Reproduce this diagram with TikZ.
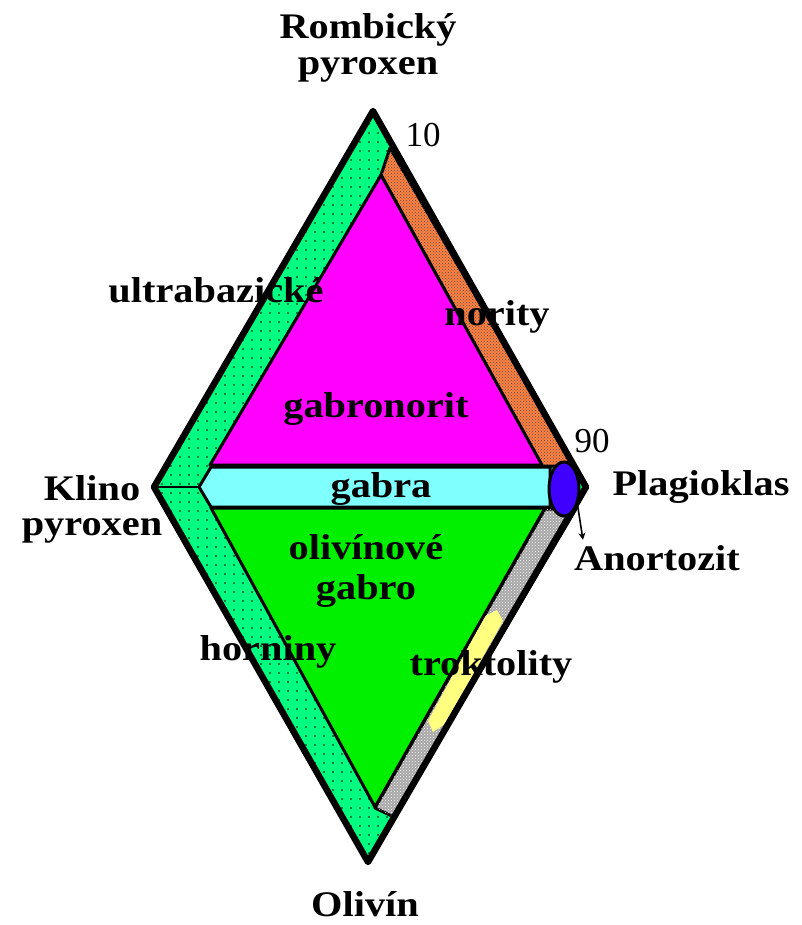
\documentclass[tikz,border=0pt]{standalone}
\usepackage{fontspec}
\setmainfont{Liberation Serif}
\newfontfamily\lblfont[FakeStretch=1.12]{Liberation Serif}
\usetikzlibrary{arrows.meta,shapes.geometric,patterns,patterns.meta}

\definecolor{mintgreen}{RGB}{0,255,128}
\definecolor{olgreen}{RGB}{0,240,0}
\definecolor{gabcyan}{RGB}{128,255,255}
\definecolor{gabmagenta}{RGB}{255,0,255}
\definecolor{noritorange}{RGB}{255,128,64}
\definecolor{plagblue}{RGB}{64,0,255}
\definecolor{troktyellow}{RGB}{255,255,128}

\tikzdeclarepattern{
  name=sparsedots,
  type=uncolored,
  bounding box={(-1pt,-1pt) and (1pt,1pt)},
  tile size={(9pt,9pt)},
  code={\fill (0pt,0pt) circle (0.9pt);}
}

\begin{document}
\begin{tikzpicture}[x=1pt, y=-1pt,
    zone/.style={draw=black, line width=3pt, line join=round},
    lbl/.style={inner sep=0pt, align=center, font=\lblfont\bfseries\fontsize{36}{36}\selectfont},
    num/.style={inner sep=0pt, font=\fontsize{35}{35}\selectfont},
    arr/.style={-{Stealth[length=7pt,width=7pt]}, line width=1.6pt}
]
\useasboundingbox (0,0) rectangle (802,925);

\coordinate (top) at (373,111);
\coordinate (left) at (154,487);
\coordinate (bot) at (368,862);
\coordinate (right) at (586,487);
\coordinate (tip) at (199,487);

\fill[mintgreen] (top) -- (left) -- (bot) -- (right) -- cycle;
\fill[pattern=sparsedots, pattern color=black] (top) -- (left) -- (bot) -- (right) -- cycle;

\filldraw[zone, fill=noritorange, postaction={pattern=crosshatch dots, pattern color=black!70}]
    (390,148) -- (574,466) -- (542,466) -- (381,175) -- cycle;
\filldraw[zone, fill=black!35, postaction={pattern=crosshatch dots, pattern color=white}]
    (545,509) -- (576,509) -- (394,817) -- (375,808) -- cycle;
\fill[troktyellow] (485,616) -- (497,610) -- (503,621) -- (445,724) -- (433,732) -- (428,721) -- cycle;

\filldraw[zone, fill=gabmagenta] (381,175) -- (210,465) -- (542,465) -- cycle;
\filldraw[zone, fill=gabcyan] (211,467) -- (tip) -- (211,507) -- (550,507) -- (550,467) -- cycle;
\filldraw[zone, fill=olgreen] (211,508) -- (545,508) -- (375,807) -- cycle;

\draw[line width=1.2pt] (left) -- (tip);
\draw[line width=6.5pt, line join=round] (top) -- (left) -- (bot) -- (right) -- cycle;

\node[ellipse, draw=black, line width=3pt, fill=plagblue, minimum width=30pt, minimum height=54pt, inner sep=0pt] (plag) at (564,489) {};

\node[lbl, anchor=north] (rombicky) at (368,13) {Rombický\\pyroxen};
\node[num, anchor=base] (n10) at (423,147) {10};
\node[lbl, anchor=base] (ultrabazicke) at (216,302) {ultrabazické};
\node[lbl, anchor=base] (nority) at (497,325) {nority};
\node[lbl, anchor=base] (gabronorit) at (376,417) {gabronorit};
\node[num, anchor=base] (n90) at (592,452) {90};
\node[lbl, anchor=north] (klino) at (92,475) {Klino\\[-1pt]pyroxen};
\node[lbl, anchor=base] (gabra) at (381,497) {gabra};
\node[lbl, anchor=base] (plagioklas) at (701,495) {Plagioklas};
\node[lbl, anchor=north] (olgabro) at (366,534) {olivínové\\[4pt]gabro};
\node[lbl, anchor=base] (anortozit) at (657,570) {Anortozit};
\node[lbl, anchor=base] (horniny) at (268,660) {horniny};
\node[lbl, anchor=base] (troktolity) at (491,675) {troktolity};
\node[lbl, anchor=base] (olivin) at (365,916) {Olivín};

\draw[arr] (plag.-50) -- ([xshift=9pt,yshift=5pt]anortozit.north west);
\end{tikzpicture}
\end{document}
